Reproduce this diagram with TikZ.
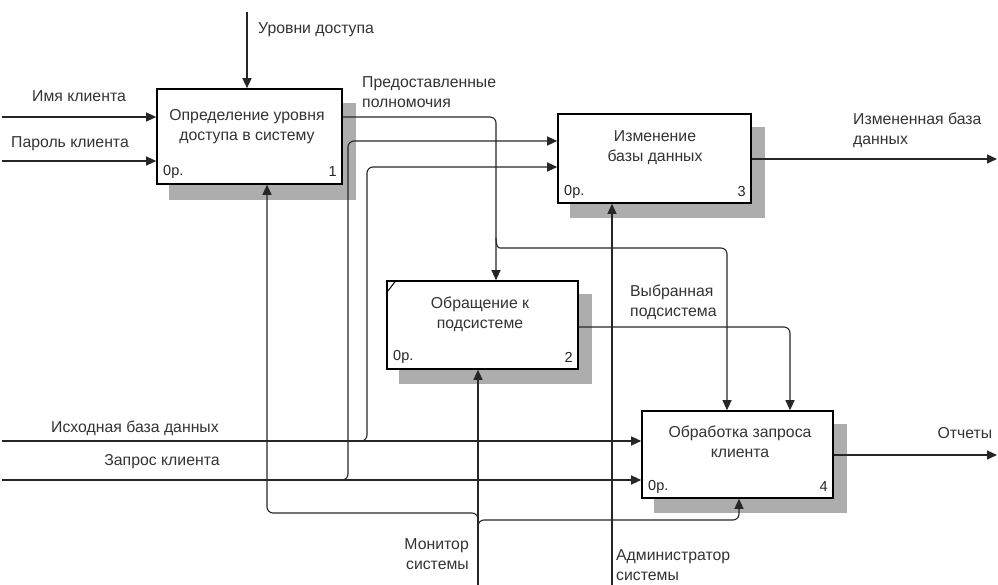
\documentclass[tikz,border=0pt]{standalone}
\usepackage{fontspec}
\setmainfont{Liberation Sans}
\usetikzlibrary{arrows.meta,backgrounds}
\begin{document}
\begin{tikzpicture}[x=1pt,y=-1pt,
  box/.style={draw,line width=1.6pt,fill=white,inner sep=0pt},
  shadowfill/.style={fill=black!32,draw=none},
  conn/.style={line width=1.1pt,draw=black!85,rounded corners=6pt},
  arr/.style={conn,-{Triangle[length=10pt,width=9pt]}},
  lbl/.style={font=\fontsize{15.8}{20}\selectfont,inner sep=0pt,text=black!80},
  btxt/.style={font=\fontsize{15.8}{20}\selectfont,inner sep=0pt,align=center,text=black!80},
  corner/.style={font=\fontsize{14.5}{16}\selectfont,inner sep=0pt,text=black!85}
]
\useasboundingbox (0,0) rectangle (998,585);

% boxes
\node[box,minimum width=185pt,minimum height=95pt] (b1) at (249.5,136.5) {};
\node[box,minimum width=191pt,minimum height=88pt] (b2) at (482.5,325) {};
\node[box,minimum width=193pt,minimum height=89pt] (b3) at (654.5,158.5) {};
\node[box,minimum width=191pt,minimum height=87pt] (b4) at (737.5,454.5) {};

\begin{scope}[on background layer]
  \fill[shadowfill] ([xshift=13pt,yshift=-15pt]b1.south west) rectangle ([xshift=13pt,yshift=-15pt]b1.north east);
  \fill[shadowfill] ([xshift=13pt,yshift=-14pt]b2.south west) rectangle ([xshift=13pt,yshift=-14pt]b2.north east);
  \fill[shadowfill] ([xshift=13pt,yshift=-14pt]b3.south west) rectangle ([xshift=13pt,yshift=-14pt]b3.north east);
  \fill[shadowfill] ([xshift=13pt,yshift=-14pt]b4.south west) rectangle ([xshift=13pt,yshift=-14pt]b4.north east);
\end{scope}

% box texts
\node[btxt] (b1t) at (247,127) {Определение уровня\\доступа в систему};
\node[corner,anchor=west] (b1a) at (163,172) {0р.};
\node[corner,anchor=east] (b1n) at (337,172) {1};
\node[btxt] (b2t) at (480,314) {Обращение к\\подсистеме};
\node[corner,anchor=west] (b2a) at (393,357) {0р.};
\node[corner,anchor=east] (b2n) at (573,357) {2};
\node[btxt] (b3t) at (655,148) {Изменение\\базы данных};
\node[corner,anchor=west] (b3a) at (564,192) {0р.};
\node[corner,anchor=east] (b3n) at (746,192) {3};
\node[btxt] (b4t) at (740,442) {Обработка запроса\\клиента};
\node[corner,anchor=west] (b4a) at (648,487) {0р.};
\node[corner,anchor=east] (b4n) at (828,487) {4};
\draw[line width=1pt] ([yshift=-13pt]b2.north west) -- ([xshift=10pt]b2.north west);

% coordinates
\coordinate (t1) at (247,12);
\coordinate (in1) at (2,117);
\coordinate (in2) at (2,161);
\coordinate (in3) at (2,441);
\coordinate (in4) at (2,480);
\coordinate (p1) at (496,117);
\coordinate (p1b) at (496,238);
\coordinate (p1c) at (727,248);
\coordinate (q1) at (348,480);
\coordinate (q2) at (348,141);
\coordinate (r1) at (367,441);
\coordinate (r2) at (367,167);
\coordinate (s1) at (790,327);
\coordinate (o3) at (997,159);
\coordinate (o4) at (997,455);
\coordinate (m0) at (478,585);
\coordinate (m1) at (478,528);
\coordinate (mL) at (267,513);
\coordinate (mR) at (739,520);
\coordinate (a0) at (612,585);

% connectors
\draw[arr] (t1) -- (t1 |- b1.north);
\draw[arr] (in1) -- (in1 -| b1.west);
\draw[arr] (in2) -- (in2 -| b1.west);
\draw[arr] (b1.east |- p1) -- (p1) -- (p1 |- b2.north);
\draw[arr] (p1b) .. controls (496,246) and (498,248) .. (506,248) -- (p1c) -- (p1c |- b4.north);
\draw[arr] (in3) -- (in3 -| b4.west);
\draw[arr] (in4) -- (in4 -| b4.west);
\draw[arr] ([xshift=-12pt]q1) -- (q1) -- (q2) -- (q2 -| b3.west);
\draw[arr] ([xshift=-12pt]r1) -- (r1) -- (r2) -- (r2 -| b3.west);
\draw[arr] (b2.east |- s1) -- (s1) -- (s1 |- b4.north);
\draw[arr] (b3.east |- o3) -- (o3);
\draw[arr] (b4.east |- o4) -- (o4);
\draw[arr] (m0) -- (m0 |- b2.south);
\draw[arr] (m1) -- (m1 |- mL) -- (mL) -- (mL |- b1.south);
\draw[arr] (m1) -- (m1 |- mR) -- (mR) -- (mR |- b4.south);
\draw[arr] (a0) -- (a0 |- b3.south);

% labels
\node[lbl,anchor=west] (l1) at (258,30) {Уровни доступа};
\node[lbl] (l2) at (79,96) {Имя клиента};
\node[lbl] (l3) at (70,144) {Пароль клиента};
\node[lbl,anchor=west,align=left] (l4) at (362,92) {Предоставленные\\полномочия};
\node[lbl,anchor=west,align=left] (l5) at (853,130) {Измененная база\\данных};
\node[lbl,anchor=west,align=left] (l6) at (630,302) {Выбранная\\подсистема};
\node[lbl] (l7) at (135,428) {Исходная база данных};
\node[lbl] (l8) at (162,462) {Запрос клиента};
\node[lbl,anchor=east,align=right] (l9) at (469,554) {Монитор\\системы};
\node[lbl,anchor=west,align=left] (l10) at (616,565) {Администратор\\системы};
\node[lbl] (l11) at (965,433) {Отчеты};
\end{tikzpicture}
\end{document}
